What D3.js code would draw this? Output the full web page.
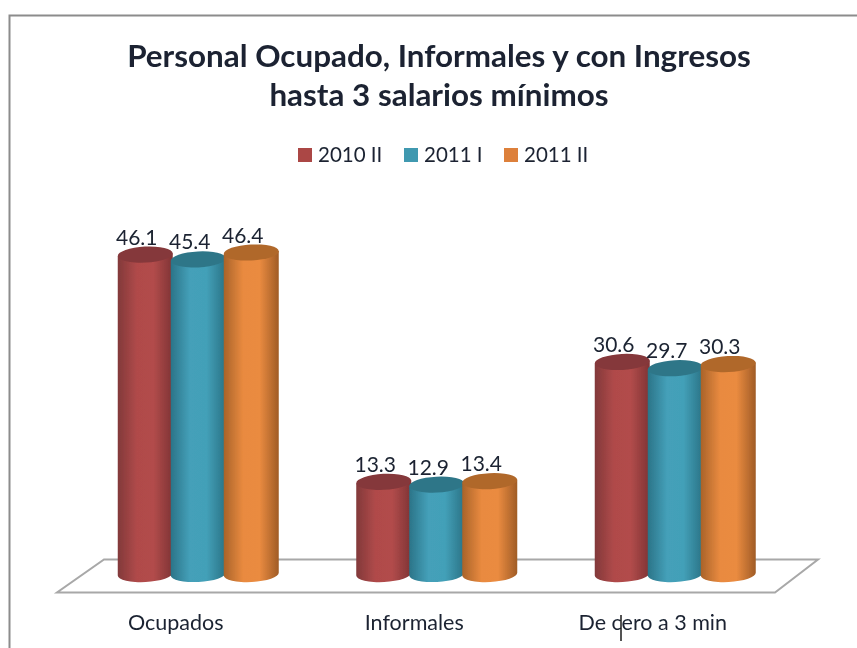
<!DOCTYPE html>
<html>
<head>
<meta charset="utf-8">
<script src="https://cdn.jsdelivr.net/npm/d3@7"></script>
<style>
  html, body { margin: 0; padding: 0; background: #fff; }
  svg { display: block; }
  text { font-family: Lato, "Open Sans", sans-serif; fill: #1a2230; }
</style>
</head>
<body>
<svg id="chart" width="857" height="648"></svg>
<script>
// data
var categories = ["Ocupados", "Informales", "De cero a 3 min"];
var seriesNames = ["2010 II", "2011 I", "2011 II"];
var values2010II = [46.1, 13.3, 30.6];
var values2011I = [45.4, 12.9, 29.7];
var values2011II = [46.4, 13.4, 30.3];
var titleLines = ["Personal Ocupado, Informales y con Ingresos", "hasta 3 salarios mínimos"];

var allValues = [values2010II, values2011I, values2011II];
var sideColors = [
  ["#82393a", "#b04a4a", "#b24c4b", "#7f3335"],
  ["#2b7488", "#44a0b9", "#43a0b8", "#2a7386"],
  ["#a9632a", "#e98a3f", "#ea8b40", "#a05c26"]
];
var topColors = ["#85383b", "#2f7688", "#b0682c"];
var legendColors = ["#ab4644", "#3f99b0", "#dd803a"];

var svg = d3.select("#chart");
var defs = svg.append("defs");

defs.append("filter").attr("id", "soft")
  .append("feGaussianBlur").attr("stdDeviation", 0.45);

sideColors.forEach(function(c, i) {
  var g = defs.append("linearGradient").attr("id", "side" + i);
  [0, 0.35, 0.65, 1].forEach(function(o, j) {
    g.append("stop").attr("offset", o).attr("stop-color", c[j]);
  });
});

var root = svg.append("g").attr("filter", "url(#soft)");

// frame, open on the right and at the bottom
root.append("path")
  .attr("d", "M9.5,648V15.5H857")
  .attr("fill", "none")
  .attr("stroke", "#8c8c8c")
  .attr("stroke-width", 2);

// scales
var xScale = d3.scaleBand().domain(categories).range([78.5, 794]);
var xInner = d3.scaleBand().domain(seriesNames).range([-79.5, 79.5]);
var yScale = d3.scaleLinear().domain([0, 46.4]).range([574, 252.5]);
var tilt = -3, ry = 8;

function barCenter(cat, name) {
  return xScale(cat) + xScale.bandwidth() / 2 + xInner(name) + xInner.bandwidth() / 2;
}

// floor
root.append("path")
  .attr("d", "M57,592.5H775L818,559.5H104Z")
  .attr("fill", "#fff")
  .attr("stroke", "#a8a8a8")
  .attr("stroke-width", 2);

// title
root.selectAll(".title")
  .data(titleLines)
  .enter().append("text")
  .attr("class", "title")
  .attr("x", 439)
  .attr("y", function(d, i) { return 67 + i * 39; })
  .attr("text-anchor", "middle")
  .attr("font-size", 31.4)
  .attr("font-weight", 700)
  .text(function(d) { return d; });

// legend
var legendSwatch = [298, 404, 504];
var legend = root.selectAll(".legend")
  .data(seriesNames)
  .enter().append("g")
  .attr("class", "legend")
  .attr("transform", function(d, i) { return "translate(" + legendSwatch[i] + ",148)"; });
legend.append("rect")
  .attr("width", 14).attr("height", 14)
  .attr("fill", function(d, i) { return legendColors[i]; });
legend.append("text")
  .attr("x", 20).attr("y", 14)
  .attr("font-size", 20.5)
  .text(function(d) { return d; });

// cylinders
categories.forEach(function(cat, c) {
  seriesNames.forEach(function(name, s) {
    var v = allValues[s][c];
    var cx = barCenter(cat, name) + 0.5;
    var hw = (xInner.bandwidth() + 2) / 2;
    var dy = hw * Math.sin(-tilt * Math.PI / 180);
    var top = yScale(v), base = yScale(0);
    var arc = "A" + hw + "," + ry + " " + tilt + " 0 0 ";
    root.append("path")
      .attr("d", "M" + (cx - hw) + "," + (top + dy)
        + "L" + (cx - hw) + "," + (base + dy)
        + arc + (cx + hw) + "," + (base - dy)
        + "L" + (cx + hw) + "," + (top - dy) + "Z")
      .attr("fill", "url(#side" + s + ")");
    root.append("ellipse")
      .attr("cx", cx).attr("cy", top)
      .attr("rx", hw).attr("ry", ry)
      .attr("transform", "rotate(" + tilt + " " + cx + " " + top + ")")
      .attr("fill", topColors[s]);
  });
});

// value labels on top of the cylinders
categories.forEach(function(cat, c) {
  seriesNames.forEach(function(name, s) {
    var v = allValues[s][c];
    root.append("text")
      .attr("x", barCenter(cat, name) - 8)
      .attr("y", yScale(v) - 10)
      .attr("text-anchor", "middle")
      .attr("font-size", 21)
      .text(v.toFixed(1));
  });
});

// category labels sit left of their groups because of the perspective
root.selectAll(".cat")
  .data(categories)
  .enter().append("text")
  .attr("class", "cat")
  .attr("x", function(d) { return xScale(d) + xScale.bandwidth() / 2 - 22; })
  .attr("y", 630)
  .attr("text-anchor", "middle")
  .attr("font-size", 21.5)
  .text(function(d) { return d; });

// text cursor caught in the screenshot
root.append("path")
  .attr("d", "M621,615V641")
  .attr("stroke", "#1a1a1a")
  .attr("stroke-width", 1.5);
</script>
</body>
</html>
